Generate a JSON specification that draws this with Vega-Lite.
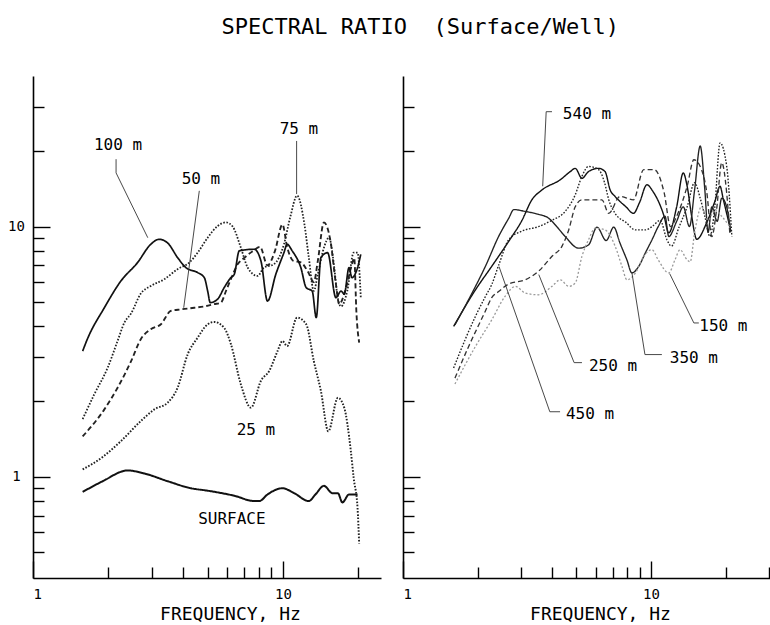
{
  "$schema": "https://vega.github.io/schema/vega-lite/v6.json",
  "padding": {"left": 7, "top": 16, "right": 0, "bottom": 0},
  "background": "white",
  "title": {"text": "SPECTRAL RATIO\u00a0\u00a0(Surface/Well)", "font": "DejaVu Sans Mono", "fontSize": 22, "fontWeight": "normal", "color": "black", "anchor": "middle", "offset": 37, "dx": 31},
  "config": {
    "view": {"stroke": null},
    "axis": {"grid": false, "domainColor": "black", "domainWidth": 1.6, "tickColor": "black", "tickWidth": 1.4, "labelFont": "DejaVu Sans Mono", "labelFontSize": 14, "labelColor": "black", "titleFont": "DejaVu Sans Mono", "titleFontSize": 18, "titleFontWeight": "normal", "titleColor": "black"}
  },
  "datasets": {
    "L": [
      {"d": "SURFACE", "f": 1.58, "v": 0.87}, {"d": "SURFACE", "f": 1.9, "v": 0.96}, {"d": "SURFACE", "f": 2.39, "v": 1.06}, {"d": "SURFACE", "f": 2.8, "v": 1.03}, {"d": "SURFACE", "f": 3.46, "v": 0.96}, {"d": "SURFACE", "f": 4.29, "v": 0.9}, {"d": "SURFACE", "f": 5.0, "v": 0.88}, {"d": "SURFACE", "f": 6.39, "v": 0.84}, {"d": "SURFACE", "f": 7.68, "v": 0.8}, {"d": "SURFACE", "f": 8.05, "v": 0.8}, {"d": "SURFACE", "f": 8.68, "v": 0.85}, {"d": "SURFACE", "f": 9.96, "v": 0.9}, {"d": "SURFACE", "f": 11.1, "v": 0.86}, {"d": "SURFACE", "f": 12.7, "v": 0.8}, {"d": "SURFACE", "f": 13.5, "v": 0.85}, {"d": "SURFACE", "f": 14.6, "v": 0.92}, {"d": "SURFACE", "f": 15.8, "v": 0.86}, {"d": "SURFACE", "f": 16.6, "v": 0.86}, {"d": "SURFACE", "f": 17.3, "v": 0.79}, {"d": "SURFACE", "f": 18.4, "v": 0.85}, {"d": "SURFACE", "f": 19.9, "v": 0.85},
      {"d": "25 m", "f": 1.58, "v": 1.07}, {"d": "25 m", "f": 1.9, "v": 1.2}, {"d": "25 m", "f": 2.25, "v": 1.39}, {"d": "25 m", "f": 2.7, "v": 1.67}, {"d": "25 m", "f": 3.06, "v": 1.86}, {"d": "25 m", "f": 3.46, "v": 1.98}, {"d": "25 m", "f": 3.79, "v": 2.27}, {"d": "25 m", "f": 4.16, "v": 3.09}, {"d": "25 m", "f": 4.56, "v": 3.6}, {"d": "25 m", "f": 5.0, "v": 4.07}, {"d": "25 m", "f": 5.31, "v": 4.16}, {"d": "25 m", "f": 5.82, "v": 3.94}, {"d": "25 m", "f": 6.19, "v": 3.4}, {"d": "25 m", "f": 6.79, "v": 2.34}, {"d": "25 m", "f": 7.45, "v": 1.89}, {"d": "25 m", "f": 8.17, "v": 2.42}, {"d": "25 m", "f": 8.82, "v": 2.65}, {"d": "25 m", "f": 9.52, "v": 3.18}, {"d": "25 m", "f": 9.96, "v": 3.49}, {"d": "25 m", "f": 10.4, "v": 3.33}, {"d": "25 m", "f": 11.4, "v": 4.33}, {"d": "25 m", "f": 12.4, "v": 4.07}, {"d": "25 m", "f": 13.3, "v": 2.9}, {"d": "25 m", "f": 14.2, "v": 2.2}, {"d": "25 m", "f": 15.2, "v": 1.52}, {"d": "25 m", "f": 16.6, "v": 2.07}, {"d": "25 m", "f": 17.6, "v": 1.89}, {"d": "25 m", "f": 18.7, "v": 1.27}, {"d": "25 m", "f": 19.2, "v": 0.99}, {"d": "25 m", "f": 19.9, "v": 0.75}, {"d": "25 m", "f": 20.2, "v": 0.54},
      {"d": "50 m", "f": 1.58, "v": 1.45}, {"d": "50 m", "f": 1.93, "v": 1.86}, {"d": "50 m", "f": 2.18, "v": 2.27}, {"d": "50 m", "f": 2.47, "v": 2.9}, {"d": "50 m", "f": 2.7, "v": 3.55}, {"d": "50 m", "f": 2.96, "v": 3.89}, {"d": "50 m", "f": 3.25, "v": 4.07}, {"d": "50 m", "f": 3.56, "v": 4.6}, {"d": "50 m", "f": 3.91, "v": 4.67}, {"d": "50 m", "f": 4.42, "v": 4.74}, {"d": "50 m", "f": 4.85, "v": 4.8}, {"d": "50 m", "f": 5.31, "v": 4.9}, {"d": "50 m", "f": 5.65, "v": 4.97}, {"d": "50 m", "f": 5.92, "v": 5.53}, {"d": "50 m", "f": 6.19, "v": 6.16}, {"d": "50 m", "f": 6.59, "v": 7.07}, {"d": "50 m", "f": 7.0, "v": 7.5}, {"d": "50 m", "f": 7.6, "v": 8.0}, {"d": "50 m", "f": 8.1, "v": 8.3}, {"d": "50 m", "f": 8.68, "v": 7.0}, {"d": "50 m", "f": 9.3, "v": 8.0}, {"d": "50 m", "f": 9.96, "v": 10.2}, {"d": "50 m", "f": 10.4, "v": 8.3}, {"d": "50 m", "f": 11.0, "v": 7.3}, {"d": "50 m", "f": 11.8, "v": 7.2}, {"d": "50 m", "f": 12.6, "v": 6.6}, {"d": "50 m", "f": 13.3, "v": 6.0}, {"d": "50 m", "f": 13.8, "v": 7.3}, {"d": "50 m", "f": 14.6, "v": 10.4}, {"d": "50 m", "f": 15.5, "v": 8.77}, {"d": "50 m", "f": 16.3, "v": 5.9}, {"d": "50 m", "f": 16.8, "v": 4.9}, {"d": "50 m", "f": 17.9, "v": 5.7}, {"d": "50 m", "f": 18.9, "v": 7.07}, {"d": "50 m", "f": 19.3, "v": 7.5}, {"d": "50 m", "f": 19.7, "v": 4.5}, {"d": "50 m", "f": 20.2, "v": 3.44},
      {"d": "75 m", "f": 1.58, "v": 1.7}, {"d": "75 m", "f": 1.76, "v": 2.14}, {"d": "75 m", "f": 1.99, "v": 2.73}, {"d": "75 m", "f": 2.18, "v": 3.49}, {"d": "75 m", "f": 2.32, "v": 4.13}, {"d": "75 m", "f": 2.47, "v": 4.5}, {"d": "75 m", "f": 2.7, "v": 5.4}, {"d": "75 m", "f": 2.96, "v": 5.79}, {"d": "75 m", "f": 3.35, "v": 6.16}, {"d": "75 m", "f": 3.79, "v": 6.76}, {"d": "75 m", "f": 4.22, "v": 7.18}, {"d": "75 m", "f": 4.56, "v": 7.87}, {"d": "75 m", "f": 5.0, "v": 9.03}, {"d": "75 m", "f": 5.48, "v": 10.05}, {"d": "75 m", "f": 5.92, "v": 10.4}, {"d": "75 m", "f": 6.3, "v": 10.0}, {"d": "75 m", "f": 6.79, "v": 8.24}, {"d": "75 m", "f": 7.23, "v": 6.86}, {"d": "75 m", "f": 7.92, "v": 6.35}, {"d": "75 m", "f": 8.4, "v": 6.86}, {"d": "75 m", "f": 9.2, "v": 7.07}, {"d": "75 m", "f": 10.1, "v": 8.5}, {"d": "75 m", "f": 10.7, "v": 10.9}, {"d": "75 m", "f": 11.4, "v": 13.3}, {"d": "75 m", "f": 12.2, "v": 10.2}, {"d": "75 m", "f": 12.7, "v": 7.52}, {"d": "75 m", "f": 13.3, "v": 5.53}, {"d": "75 m", "f": 13.8, "v": 6.45}, {"d": "75 m", "f": 14.6, "v": 8.24}, {"d": "75 m", "f": 15.3, "v": 9.03}, {"d": "75 m", "f": 16.0, "v": 7.07}, {"d": "75 m", "f": 16.5, "v": 5.37}, {"d": "75 m", "f": 17.1, "v": 4.8}, {"d": "75 m", "f": 18.1, "v": 5.53}, {"d": "75 m", "f": 19.2, "v": 7.87}, {"d": "75 m", "f": 19.9, "v": 7.87}, {"d": "75 m", "f": 20.5, "v": 5.2},
      {"d": "100 m", "f": 1.58, "v": 3.18}, {"d": "100 m", "f": 1.65, "v": 3.55}, {"d": "100 m", "f": 1.93, "v": 4.74}, {"d": "100 m", "f": 2.25, "v": 6.07}, {"d": "100 m", "f": 2.62, "v": 7.18}, {"d": "100 m", "f": 2.96, "v": 8.5}, {"d": "100 m", "f": 3.2, "v": 8.9}, {"d": "100 m", "f": 3.46, "v": 8.6}, {"d": "100 m", "f": 3.79, "v": 7.52}, {"d": "100 m", "f": 4.09, "v": 6.86}, {"d": "100 m", "f": 4.56, "v": 6.55}, {"d": "100 m", "f": 4.85, "v": 6.25}, {"d": "100 m", "f": 5.0, "v": 5.53}, {"d": "100 m", "f": 5.12, "v": 4.97}, {"d": "100 m", "f": 5.48, "v": 5.13}, {"d": "100 m", "f": 5.82, "v": 5.7}, {"d": "100 m", "f": 6.19, "v": 6.25}, {"d": "100 m", "f": 6.39, "v": 6.45}, {"d": "100 m", "f": 6.69, "v": 8.0}, {"d": "100 m", "f": 7.68, "v": 8.12}, {"d": "100 m", "f": 8.17, "v": 7.29}, {"d": "100 m", "f": 8.68, "v": 5.04}, {"d": "100 m", "f": 9.37, "v": 6.45}, {"d": "100 m", "f": 10.1, "v": 7.87}, {"d": "100 m", "f": 10.4, "v": 8.5}, {"d": "100 m", "f": 10.9, "v": 8.0}, {"d": "100 m", "f": 11.8, "v": 6.86}, {"d": "100 m", "f": 12.4, "v": 5.7}, {"d": "100 m", "f": 13.1, "v": 5.53}, {"d": "100 m", "f": 13.6, "v": 4.33}, {"d": "100 m", "f": 14.2, "v": 7.52}, {"d": "100 m", "f": 15.1, "v": 7.87}, {"d": "100 m", "f": 16.3, "v": 5.2}, {"d": "100 m", "f": 17.1, "v": 5.53}, {"d": "100 m", "f": 17.6, "v": 5.37}, {"d": "100 m", "f": 18.4, "v": 6.86}, {"d": "100 m", "f": 18.9, "v": 6.25}, {"d": "100 m", "f": 19.9, "v": 6.86}, {"d": "100 m", "f": 20.5, "v": 7.75}
    ],
    "R": [
      {"d": "540 m", "f": 1.6, "v": 3.99}, {"d": "540 m", "f": 1.96, "v": 5.59}, {"d": "540 m", "f": 2.28, "v": 6.94}, {"d": "540 m", "f": 2.67, "v": 8.74}, {"d": "540 m", "f": 3.02, "v": 10.6}, {"d": "540 m", "f": 3.31, "v": 12.8}, {"d": "540 m", "f": 3.63, "v": 14.0}, {"d": "540 m", "f": 4.31, "v": 15.4}, {"d": "540 m", "f": 4.73, "v": 16.6}, {"d": "540 m", "f": 4.95, "v": 17.1}, {"d": "540 m", "f": 5.27, "v": 15.6}, {"d": "540 m", "f": 5.6, "v": 16.6}, {"d": "540 m", "f": 6.15, "v": 17.1}, {"d": "540 m", "f": 6.53, "v": 16.6}, {"d": "540 m", "f": 6.85, "v": 14.0}, {"d": "540 m", "f": 7.17, "v": 13.2}, {"d": "540 m", "f": 7.93, "v": 12.0}, {"d": "540 m", "f": 8.5, "v": 11.3}, {"d": "540 m", "f": 9.0, "v": 12.5}, {"d": "540 m", "f": 9.63, "v": 14.7}, {"d": "540 m", "f": 10.2, "v": 13.8}, {"d": "540 m", "f": 11.3, "v": 11.0}, {"d": "540 m", "f": 11.8, "v": 9.44}, {"d": "540 m", "f": 12.7, "v": 12.0}, {"d": "540 m", "f": 13.5, "v": 16.4}, {"d": "540 m", "f": 14.0, "v": 14.5}, {"d": "540 m", "f": 14.6, "v": 11.0}, {"d": "540 m", "f": 15.3, "v": 8.9}, {"d": "540 m", "f": 16.8, "v": 10.4}, {"d": "540 m", "f": 18.1, "v": 12.6}, {"d": "540 m", "f": 19.0, "v": 14.5}, {"d": "540 m", "f": 19.6, "v": 12.8}, {"d": "540 m", "f": 20.8, "v": 10.0},
      {"d": "350 m", "f": 1.62, "v": 4.05}, {"d": "350 m", "f": 1.9, "v": 5.43}, {"d": "350 m", "f": 2.15, "v": 6.94}, {"d": "350 m", "f": 2.43, "v": 9.13}, {"d": "350 m", "f": 2.67, "v": 10.8}, {"d": "350 m", "f": 2.8, "v": 11.7}, {"d": "350 m", "f": 3.11, "v": 11.5}, {"d": "350 m", "f": 3.52, "v": 11.2}, {"d": "350 m", "f": 3.87, "v": 10.8}, {"d": "350 m", "f": 4.17, "v": 10.0}, {"d": "350 m", "f": 4.51, "v": 9.13}, {"d": "350 m", "f": 5.11, "v": 8.2}, {"d": "350 m", "f": 5.6, "v": 8.45}, {"d": "350 m", "f": 6.06, "v": 9.95}, {"d": "350 m", "f": 6.6, "v": 8.8}, {"d": "350 m", "f": 7.08, "v": 9.95}, {"d": "350 m", "f": 7.5, "v": 8.6}, {"d": "350 m", "f": 8.0, "v": 7.36}, {"d": "350 m", "f": 8.38, "v": 6.53}, {"d": "350 m", "f": 8.93, "v": 6.94}, {"d": "350 m", "f": 9.5, "v": 7.86}, {"d": "350 m", "f": 10.1, "v": 8.86}, {"d": "350 m", "f": 10.7, "v": 10.0}, {"d": "350 m", "f": 11.4, "v": 11.0}, {"d": "350 m", "f": 11.8, "v": 9.13}, {"d": "350 m", "f": 12.7, "v": 10.5}, {"d": "350 m", "f": 13.5, "v": 12.0}, {"d": "350 m", "f": 14.3, "v": 10.0}, {"d": "350 m", "f": 15.0, "v": 14.0}, {"d": "350 m", "f": 15.8, "v": 21.0}, {"d": "350 m", "f": 16.5, "v": 14.0}, {"d": "350 m", "f": 17.0, "v": 9.5}, {"d": "350 m", "f": 17.6, "v": 12.0}, {"d": "350 m", "f": 18.5, "v": 10.5}, {"d": "350 m", "f": 19.3, "v": 13.0}, {"d": "350 m", "f": 20.2, "v": 12.0}, {"d": "350 m", "f": 21.0, "v": 9.5},
      {"d": "450 m", "f": 1.6, "v": 2.72}, {"d": "450 m", "f": 1.78, "v": 3.53}, {"d": "450 m", "f": 1.96, "v": 4.38}, {"d": "450 m", "f": 2.15, "v": 5.26}, {"d": "450 m", "f": 2.28, "v": 5.87}, {"d": "450 m", "f": 2.43, "v": 7.0}, {"d": "450 m", "f": 2.67, "v": 8.86}, {"d": "450 m", "f": 3.02, "v": 9.6}, {"d": "450 m", "f": 3.52, "v": 10.0}, {"d": "450 m", "f": 3.99, "v": 10.6}, {"d": "450 m", "f": 4.51, "v": 11.5}, {"d": "450 m", "f": 4.95, "v": 13.4}, {"d": "450 m", "f": 5.27, "v": 15.9}, {"d": "450 m", "f": 5.6, "v": 17.4}, {"d": "450 m", "f": 6.15, "v": 16.9}, {"d": "450 m", "f": 6.5, "v": 15.0}, {"d": "450 m", "f": 6.76, "v": 12.8}, {"d": "450 m", "f": 7.17, "v": 11.3}, {"d": "450 m", "f": 7.93, "v": 10.4}, {"d": "450 m", "f": 8.66, "v": 9.7}, {"d": "450 m", "f": 9.5, "v": 9.7}, {"d": "450 m", "f": 10.1, "v": 10.0}, {"d": "450 m", "f": 10.9, "v": 10.6}, {"d": "450 m", "f": 11.6, "v": 8.86}, {"d": "450 m", "f": 12.1, "v": 8.36}, {"d": "450 m", "f": 13.0, "v": 10.0}, {"d": "450 m", "f": 14.0, "v": 12.0}, {"d": "450 m", "f": 15.0, "v": 15.0}, {"d": "450 m", "f": 15.8, "v": 13.0}, {"d": "450 m", "f": 16.5, "v": 11.0}, {"d": "450 m", "f": 17.3, "v": 9.13}, {"d": "450 m", "f": 18.1, "v": 12.0}, {"d": "450 m", "f": 19.0, "v": 21.6}, {"d": "450 m", "f": 20.2, "v": 17.5}, {"d": "450 m", "f": 21.2, "v": 9.13},
      {"d": "250 m", "f": 1.62, "v": 2.48}, {"d": "250 m", "f": 1.84, "v": 3.32}, {"d": "250 m", "f": 2.15, "v": 4.6}, {"d": "250 m", "f": 2.28, "v": 5.2}, {"d": "250 m", "f": 2.43, "v": 5.5}, {"d": "250 m", "f": 2.67, "v": 5.9}, {"d": "250 m", "f": 3.11, "v": 6.13}, {"d": "250 m", "f": 3.52, "v": 6.63}, {"d": "250 m", "f": 3.99, "v": 7.61}, {"d": "250 m", "f": 4.38, "v": 8.36}, {"d": "250 m", "f": 4.66, "v": 9.7}, {"d": "250 m", "f": 4.95, "v": 12.0}, {"d": "250 m", "f": 5.27, "v": 12.8}, {"d": "250 m", "f": 6.34, "v": 12.8}, {"d": "250 m", "f": 6.76, "v": 11.3}, {"d": "250 m", "f": 7.5, "v": 13.2}, {"d": "250 m", "f": 8.5, "v": 12.8}, {"d": "250 m", "f": 9.35, "v": 16.9}, {"d": "250 m", "f": 10.3, "v": 16.9}, {"d": "250 m", "f": 11.3, "v": 13.7}, {"d": "250 m", "f": 12.0, "v": 10.0}, {"d": "250 m", "f": 12.7, "v": 11.0}, {"d": "250 m", "f": 14.0, "v": 14.5}, {"d": "250 m", "f": 14.9, "v": 18.5}, {"d": "250 m", "f": 16.0, "v": 16.9}, {"d": "250 m", "f": 16.8, "v": 13.7}, {"d": "250 m", "f": 17.6, "v": 9.13}, {"d": "250 m", "f": 18.4, "v": 11.7}, {"d": "250 m", "f": 19.3, "v": 18.0}, {"d": "250 m", "f": 20.2, "v": 13.7}, {"d": "250 m", "f": 20.8, "v": 9.44},
      {"d": "150 m", "f": 1.62, "v": 2.35}, {"d": "150 m", "f": 1.96, "v": 3.32}, {"d": "150 m", "f": 2.28, "v": 4.24}, {"d": "150 m", "f": 2.58, "v": 5.26}, {"d": "150 m", "f": 2.84, "v": 5.77}, {"d": "150 m", "f": 3.11, "v": 5.43}, {"d": "150 m", "f": 3.52, "v": 5.34}, {"d": "150 m", "f": 3.99, "v": 5.77}, {"d": "150 m", "f": 4.31, "v": 6.13}, {"d": "150 m", "f": 4.66, "v": 5.77}, {"d": "150 m", "f": 4.95, "v": 5.95}, {"d": "150 m", "f": 5.27, "v": 7.61}, {"d": "150 m", "f": 5.6, "v": 8.86}, {"d": "150 m", "f": 5.96, "v": 9.86}, {"d": "150 m", "f": 6.53, "v": 9.7}, {"d": "150 m", "f": 7.17, "v": 8.36}, {"d": "150 m", "f": 7.64, "v": 6.94}, {"d": "150 m", "f": 8.0, "v": 6.13}, {"d": "150 m", "f": 8.66, "v": 6.53}, {"d": "150 m", "f": 9.35, "v": 7.61}, {"d": "150 m", "f": 10.1, "v": 8.08}, {"d": "150 m", "f": 10.7, "v": 7.36}, {"d": "150 m", "f": 11.8, "v": 6.53}, {"d": "150 m", "f": 12.5, "v": 7.36}, {"d": "150 m", "f": 13.1, "v": 8.08}, {"d": "150 m", "f": 14.0, "v": 7.36}, {"d": "150 m", "f": 14.4, "v": 7.23}, {"d": "150 m", "f": 15.0, "v": 9.44}, {"d": "150 m", "f": 16.0, "v": 12.0}, {"d": "150 m", "f": 17.0, "v": 10.6}, {"d": "150 m", "f": 18.1, "v": 11.7}, {"d": "150 m", "f": 19.3, "v": 11.0}, {"d": "150 m", "f": 20.8, "v": 10.0}
    ],
    "LL": [
      {"id": "100", "k": 1, "f": 2.15, "v": 18.6}, {"id": "100", "k": 2, "f": 2.15, "v": 16.4}, {"id": "100", "k": 3, "f": 2.88, "v": 9.03},
      {"id": "50", "k": 1, "f": 4.63, "v": 13.9}, {"id": "50", "k": 2, "f": 4.01, "v": 4.74},
      {"id": "75", "k": 1, "f": 11.35, "v": 22.0}, {"id": "75", "k": 2, "f": 11.35, "v": 13.5}
    ],
    "RL": [
      {"id": "540", "k": 1, "f": 3.99, "v": 28.8}, {"id": "540", "k": 2, "f": 3.78, "v": 28.8}, {"id": "540", "k": 3, "f": 3.66, "v": 14.5},
      {"id": "450", "k": 1, "f": 2.44, "v": 6.92}, {"id": "450", "k": 2, "f": 3.91, "v": 1.82}, {"id": "450", "k": 3, "f": 4.3, "v": 1.82},
      {"id": "250", "k": 1, "f": 3.53, "v": 6.43}, {"id": "250", "k": 2, "f": 4.9, "v": 2.86}, {"id": "250", "k": 3, "f": 5.27, "v": 2.86},
      {"id": "350", "k": 1, "f": 8.38, "v": 6.55}, {"id": "350", "k": 2, "f": 9.46, "v": 3.08}, {"id": "350", "k": 3, "f": 11.07, "v": 3.08},
      {"id": "150", "k": 1, "f": 11.9, "v": 6.49}, {"id": "150", "k": 2, "f": 14.9, "v": 4.12}, {"id": "150", "k": 3, "f": 15.6, "v": 4.12}
    ],
    "LT": [
      {"t": "100 m", "f": 2.19, "v": 21.2}, {"t": "50 m", "f": 4.7, "v": 15.5}, {"t": "75 m", "f": 11.6, "v": 24.6}, {"t": "25 m", "f": 7.8, "v": 1.54}, {"t": "SURFACE", "f": 6.25, "v": 0.68}
    ],
    "RT": [
      {"t": "540 m", "f": 5.52, "v": 28.3}, {"t": "150 m", "f": 19.6, "v": 4.02}, {"t": "250 m", "f": 7.03, "v": 2.78}, {"t": "350 m", "f": 14.9, "v": 2.99}, {"t": "450 m", "f": 5.68, "v": 1.79}
    ]
  },
  "spacing": 21,
  "resolve": {"scale": {"x": "independent", "y": "independent", "color": "independent", "strokeWidth": "independent", "strokeDash": "independent"}},
  "hconcat": [
    {
      "width": 348, "height": 502,
      "layer": [
        {
          "data": {"name": "L"},
          "mark": {"type": "line", "interpolate": "monotone"},
          "encoding": {
            "x": {"field": "f", "type": "quantitative", "scale": {"type": "log", "domain": [1, 24.7], "nice": false},
              "axis": {"title": "FREQUENCY, Hz", "values": [1, 2, 3, 4, 5, 6, 7, 8, 9, 10, 20], "labelExpr": "datum.value == 1 || datum.value == 10 ? datum.value : ''", "tickSize": {"condition": {"test": "datum.value == 10 || datum.value == 1", "value": -17}, "value": -11}, "labelPadding": 26, "titlePadding": 4, "titleX": 197}},
            "y": {"field": "v", "type": "quantitative", "scale": {"type": "log", "domain": [0.394, 40], "nice": false},
              "axis": {"title": null, "values": [0.5, 0.6, 0.7, 0.8, 0.9, 1, 2, 3, 4, 5, 6, 7, 8, 9, 10, 20, 30], "labelExpr": "datum.value == 1 || datum.value == 10 ? datum.value : ''", "tickSize": {"condition": {"test": "datum.value == 10 || datum.value == 1", "value": -17}, "value": -11}, "labelAlign": "center", "labelPadding": 34}},
            "detail": {"field": "d"},
            "color": {"field": "d", "type": "nominal", "legend": null, "scale": {"domain": ["SURFACE", "25 m", "50 m", "75 m", "100 m"], "range": ["#111", "#222", "#222", "#222", "#111"]}},
            "strokeWidth": {"field": "d", "type": "nominal", "legend": null, "scale": {"domain": ["SURFACE", "25 m", "50 m", "75 m", "100 m"], "range": [2.0, 1.7, 1.4, 1.7, 2.3]}},
            "strokeDash": {"field": "d", "type": "nominal", "legend": null, "scale": {"domain": ["SURFACE", "25 m", "50 m", "75 m", "100 m"], "range": [[1, 0], [1.6, 1.6], [5, 3], [1.6, 1.6], [1, 0]]}}
          }
        },
        {
          "data": {"name": "LL"},
          "mark": {"type": "line", "color": "#333", "strokeWidth": 0.9},
          "encoding": {
            "x": {"field": "f", "type": "quantitative"},
            "y": {"field": "v", "type": "quantitative"},
            "detail": {"field": "id"},
            "order": {"field": "k"}
          }
        },
        {
          "data": {"name": "LT"},
          "mark": {"type": "text", "font": "DejaVu Sans Mono", "fontSize": 16, "color": "black", "align": "center", "baseline": "middle"},
          "encoding": {
            "x": {"field": "f", "type": "quantitative"},
            "y": {"field": "v", "type": "quantitative"},
            "text": {"field": "t"}
          }
        }
      ]
    },
    {
      "width": 368, "height": 502,
      "layer": [
        {
          "data": {"name": "R"},
          "mark": {"type": "line", "interpolate": "monotone"},
          "encoding": {
            "x": {"field": "f", "type": "quantitative", "scale": {"type": "log", "domain": [1, 30.5], "nice": false},
              "axis": {"title": "FREQUENCY, Hz", "values": [1, 2, 3, 4, 5, 6, 7, 8, 9, 10, 20, 30], "labelExpr": "datum.value == 1 || datum.value == 10 ? datum.value : ''", "tickSize": {"condition": {"test": "datum.value == 10 || datum.value == 1", "value": -17}, "value": -11}, "labelPadding": 26, "titlePadding": 4, "titleX": 197}},
            "y": {"field": "v", "type": "quantitative", "scale": {"type": "log", "domain": [0.394, 40], "nice": false},
              "axis": {"title": null, "labels": false, "values": [0.5, 0.6, 0.7, 0.8, 0.9, 1, 2, 3, 4, 5, 6, 7, 8, 9, 10, 20, 30], "tickSize": {"condition": {"test": "datum.value == 10 || datum.value == 1", "value": -17}, "value": -11}}},
            "detail": {"field": "d"},
            "color": {"field": "d", "type": "nominal", "legend": null, "scale": {"domain": ["150 m", "250 m", "350 m", "450 m", "540 m"], "range": ["#9a9a9a", "#333", "#222", "#222", "#111"]}},
            "strokeWidth": {"field": "d", "type": "nominal", "legend": null, "scale": {"domain": ["150 m", "250 m", "350 m", "450 m", "540 m"], "range": [1.3, 1.4, 1.4, 1.8, 2.3]}},
            "strokeDash": {"field": "d", "type": "nominal", "legend": null, "scale": {"domain": ["150 m", "250 m", "350 m", "450 m", "540 m"], "range": [[2, 2], [5, 3], [1, 0], [1.6, 1.6], [1, 0]]}}
          }
        },
        {
          "data": {"name": "RL"},
          "mark": {"type": "line", "color": "#333", "strokeWidth": 0.9},
          "encoding": {
            "x": {"field": "f", "type": "quantitative"},
            "y": {"field": "v", "type": "quantitative"},
            "detail": {"field": "id"},
            "order": {"field": "k"}
          }
        },
        {
          "data": {"name": "RT"},
          "mark": {"type": "text", "font": "DejaVu Sans Mono", "fontSize": 16, "color": "black", "align": "center", "baseline": "middle"},
          "encoding": {
            "x": {"field": "f", "type": "quantitative"},
            "y": {"field": "v", "type": "quantitative"},
            "text": {"field": "t"}
          }
        }
      ]
    }
  ]
}
